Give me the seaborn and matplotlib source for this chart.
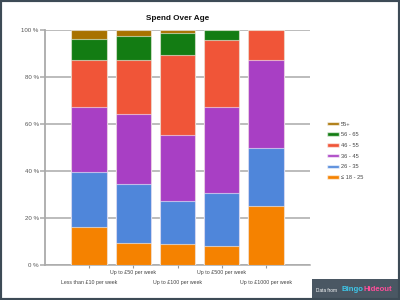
import matplotlib
matplotlib.use("Agg")
import matplotlib.pyplot as plt
import numpy as np
import pandas as pd
import seaborn as sns
from matplotlib.patches import Patch, Rectangle

categories = ["Less than £10 per week", "Up to £50 per week", "Up to £100 per week",
              "Up to £500 per week", "Up to £1000 per week"]
age_groups = ["≤ 18 - 25", "26 - 35", "36 - 45", "46 - 55", "56 - 65", "55+"]
share_18_25 = [16.2, 9.4, 9.0, 8.1, 25.0]
share_26_35 = [23.6, 25.0, 18.3, 22.6, 25.0]
share_36_45 = [27.7, 30.0, 28.0, 36.5, 37.5]
share_46_55 = [19.8, 23.0, 34.3, 28.8, 12.5]
share_56_65 = [9.1, 10.1, 9.3, 4.0, 0.0]
share_55_plus = [3.6, 2.5, 1.1, 0.0, 0.0]
y_ticks = [0, 20, 40, 60, 80, 100]

colors = ["#F58200", "#4F86DA", "#A83FC4", "#F05538", "#137C13", "#A87200"]

sns.set_theme(style="white")
plt.rcParams["font.family"] = ["Liberation Sans", "DejaVu Sans"]

shares = np.array([share_18_25, share_26_35, share_36_45, share_46_55, share_56_65, share_55_plus])
cum = shares.cumsum(axis=0)

fig = plt.figure(figsize=(4, 3), dpi=100)
ax = fig.add_axes([0.1125, 0.1167, 0.6625, 0.7817])

# draw tallest stack first so lower layers cover it
for i in reversed(range(len(age_groups))):
    df = pd.DataFrame({"cat": categories, "val": cum[i]})
    sns.barplot(data=df, x="cat", y="val", color=colors[i], width=0.8, ax=ax,
                saturation=1, edgecolor=(1, 1, 1, 0.55), linewidth=0.8, zorder=3)

ax.set_xlim(-1, 5)
ax.set_ylim(0, 100)
ax.set_yticks(y_ticks)
ax.set_yticklabels([f"{t} %" for t in y_ticks])
ax.yaxis.grid(True, color="#AAAAAA", linewidth=1.1, zorder=0)
ax.set_axisbelow(True)
ax.set_xlabel("")
ax.set_ylabel("")

ax.set_xticks(range(len(categories)))
ax.set_xticklabels(categories)
ax.tick_params(axis="x", length=2, width=0.8, color="#999999", labelsize=3.8,
               labelcolor="#444444", pad=1.5, bottom=True)
ax.tick_params(axis="y", length=3.5, width=1.1, color="#AAAAAA", labelsize=4.4,
               labelcolor="#555555", pad=1, left=True)
# stagger the category labels on two rows
for i, tick in enumerate(ax.xaxis.get_major_ticks()):
    if i % 2 == 0:
        tick.set_pad(8.8)

for s in ["top", "right"]:
    ax.spines[s].set_visible(False)
ax.spines["left"].set_color("#AAAAAA")
ax.spines["left"].set_linewidth(1.3)
ax.spines["bottom"].set_color("#AAAAAA")
ax.spines["bottom"].set_linewidth(1.1)

fig.text(0.445, 0.94, "Spend Over Age", ha="center", va="center",
         fontsize=5.9, fontweight="bold", color="#111111")

handles = [Patch(facecolor=colors[i], edgecolor=(1, 1, 1, 0.6), label=age_groups[i])
           for i in reversed(range(len(age_groups)))]
fig.legend(handles=handles, loc="upper left", bbox_to_anchor=(0.805, 0.612),
           frameon=False, fontsize=4.1, handlelength=2.0, handleheight=0.55,
           labelspacing=1.0, handletextpad=0.4, labelcolor="#444444")

fig.patches.append(Rectangle((0.78, 0.0), 0.22, 0.07, transform=fig.transFigure,
                             facecolor="#4A5763", edgecolor="none", zorder=5))
fig.text(0.79, 0.033, "Data from", color="white", fontsize=3.4, va="center", zorder=6)
fig.text(0.853, 0.035, "Bingo", color="#3EC6E8", fontsize=5.6, fontweight="bold",
         va="center", zorder=6)
fig.text(0.91, 0.035, "Hideout", color="#FF4E9A", fontsize=5.6, fontweight="bold",
         va="center", zorder=6)

fig.patches.append(Rectangle((0, 0), 1, 1, transform=fig.transFigure, fill=False,
                             edgecolor="#3D4B56", linewidth=3, zorder=10))

fig.savefig("out.png", dpi=100)
